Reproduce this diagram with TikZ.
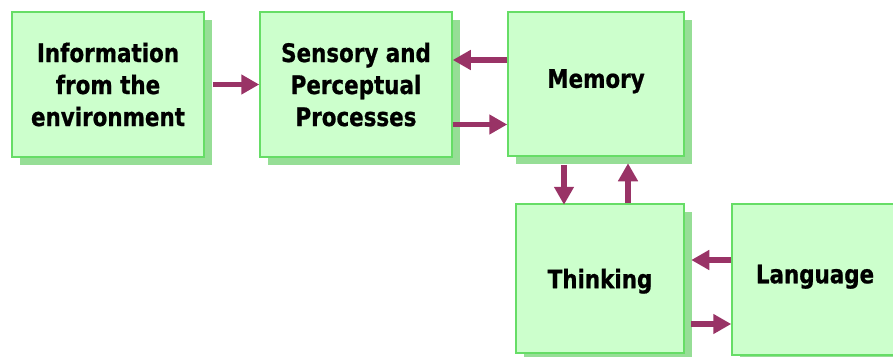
\documentclass[tikz,border=0pt]{standalone}
\usepackage{fontspec}
\usepackage{tikz}
\usepackage{xcolor}
\usetikzlibrary{arrows.meta, positioning, shadows}
\newfontfamily\boxfont{DejaVu Sans}[FakeStretch=0.84, BoldFeatures={FakeBold=0.8}]
\definecolor{BoxFill}{HTML}{CCFFCC}
\definecolor{BoxLine}{HTML}{66DD66}
\definecolor{BoxShade}{HTML}{96DE96}
\definecolor{FlowPlum}{HTML}{993366}

\tikzset{
    box/.style={draw=BoxLine, line width=1.5pt, fill=BoxFill,
        font=\boxfont\bfseries\fontsize{25.5}{32}\selectfont, align=center,
        inner sep=0pt,
        drop shadow={shadow xshift=8pt, shadow yshift=-8pt, fill=BoxShade, opacity=1}},
    flow/.style={draw=FlowPlum, line width=5.5pt,
        -{Triangle[length=18pt, width=19pt]}}
}

\begin{document}
\begin{tikzpicture}[x=1pt, y=-1pt]

    % page is 893 x 356, y runs downwards
    \useasboundingbox (0,0) rectangle (893,356);

    % === top row ===
    \node[box, minimum width=192pt, minimum height=145pt] (info) at (108,84.5)
        {Information\\from the\\environment};
    \node[box, minimum width=192pt, minimum height=145pt] (sense) at (356,84.5)
        {Sensory and\\Perceptual\\Processes};
    \node[box, minimum width=176pt, minimum height=144pt, text depth=11pt] (memory) at (596,84)
        {Memory};

    % === bottom row ===
    \node[box, minimum width=168pt, minimum height=149pt, text depth=0pt] (thinking) at (600,278.5)
        {Thinking};
    \node[box, minimum width=166pt, minimum height=151pt, text depth=11pt] (language) at (815,279.5)
        {Language};

    % arrows between the boxes
    \draw[flow] ([xshift=8pt]info.east) -- (sense.west);
    \draw[flow] ([yshift=24pt]memory.west) -- ([yshift=24pt]memory.west -| sense.east);
    \draw[flow] ([yshift=-40pt]sense.east) -- ([yshift=-40pt]sense.east -| memory.west);
    \draw[flow] ([xshift=-32pt, yshift=-8pt]memory.south) -- ++(0,40);
    \draw[flow] ([xshift=28pt]thinking.north) -- ++(0,-40);
    \draw[flow] ([yshift=19.5pt]language.west) -- ++(-40,0);
    \draw[flow] ([xshift=-40pt, yshift=-44.5pt]language.west) -- ([yshift=-44.5pt]language.west);

\end{tikzpicture}
\end{document}
